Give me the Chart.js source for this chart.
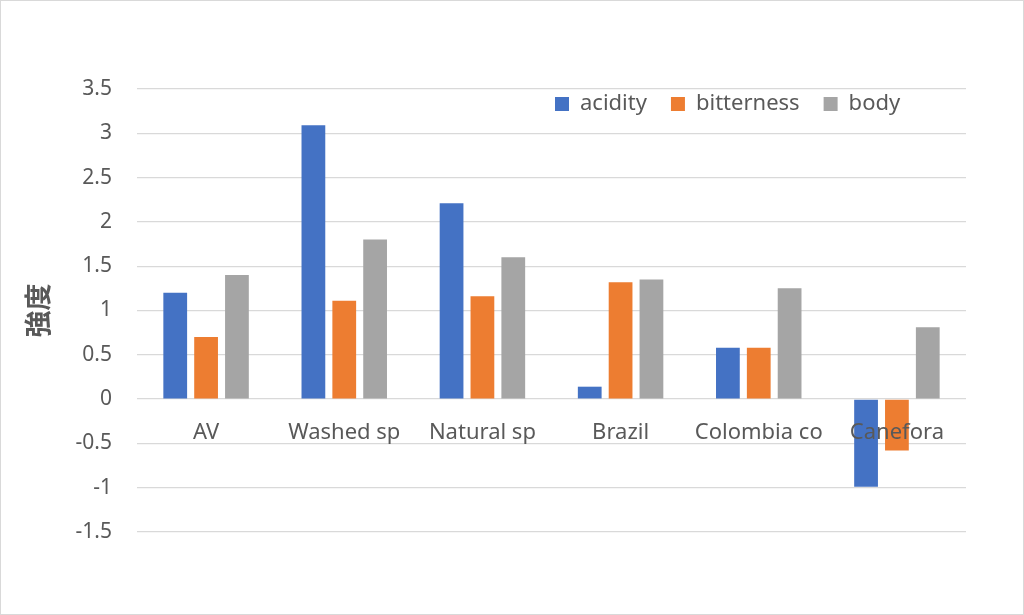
<!DOCTYPE html>
<html>
<head>
<meta charset="utf-8">
<script src="https://cdn.jsdelivr.net/npm/chart.js@4"></script>
<style>
html,body{margin:0;padding:0;background:#fff;}
#wrap{width:1022px;height:613px;border:1px solid #d9d9d9;}
canvas{display:block;}
</style>
</head>
<body>
<div id="wrap"><canvas id="c" width="1022" height="613"></canvas></div>
<script>
const categories = ["AV", "Washed sp", "Natural sp", "Brazil", "Colombia co", "Canefora"];
const acidity = [1.20, 3.09, 2.21, 0.14, 0.58, -0.99];
const bitterness = [0.70, 1.11, 1.16, 1.32, 0.58, -0.58];
const body = [1.40, 1.80, 1.60, 1.35, 1.25, 0.81];
const yTickMin = -1.5, yTickMax = 3.5, yTickStep = 0.5;

const font = "'Noto Sans', 'Noto Sans CJK JP', sans-serif";
const txt = '#595959';

const legendMover = {
  id: 'legendMover',
  beforeLayout(chart) {
    const L = chart.legend;
    if (L && !L._wrapped) {
      const orig = L.fit.bind(L);
      L.fit = function () { orig(); this.height = 40; };
      L._wrapped = true;
    }
  },
  afterLayout(chart) {
    const L = chart.legend;
    if (!L) return;
    const pad = L.options.labels.padding;
    const fs = L.options.labels.font.size;
    const newTop = 103 - pad - fs / 2;
    L.top = newTop; L.bottom = newTop + 90; L.height = 90;
    const w = L.right - L.left;
    L.left = 554 - pad; L.right = L.left + w;
  }
};

new Chart(document.getElementById('c'), {
  type: 'bar',
  data: {
    labels: categories,
    datasets: [
      {label: 'acidity', data: acidity, backgroundColor: '#4472C4'},
      {label: 'bitterness', data: bitterness, backgroundColor: '#ED7D31'},
      {label: 'body', data: body, backgroundColor: '#A5A5A5'}
    ]
  },
  plugins: [legendMover],
  options: {
    responsive: false,
    animation: false,
    devicePixelRatio: 1,
    datasets: {bar: {barPercentage: 0.77, categoryPercentage: 0.67}},
    layout: {padding: {left: 0, top: 48, right: 57, bottom: 82}},
    plugins: {
      tooltip: {enabled: false},
      legend: {
        position: 'top',
        align: 'start',
        labels: {
          font: {family: font, size: 22},
          color: txt,
          boxWidth: 14,
          boxHeight: 14,
          padding: 24
        }
      }
    },
    scales: {
      x: {
        position: {y: 0},
        grid: {display: false},
        border: {display: false},
        ticks: {z: 1, font: {family: font, size: 22}, color: txt, padding: 12, maxRotation: 0, autoSkip: false}
      },
      y: {
        min: yTickMin,
        max: yTickMax,
        afterFit: s => { s.width = 136; },
        border: {display: false},
        grid: {color: '#d9d9d9', lineWidth: 1.3, drawTicks: false},
        ticks: {stepSize: yTickStep, font: {family: font, size: 21}, color: txt, padding: 25, callback: v => String(v)},
        title: {display: true, text: '強度', font: {family: font, size: 27, weight: 'bold'}, color: txt, padding: {top: 23, bottom: 0}}
      }
    }
  }
});
</script>
</body>
</html>
